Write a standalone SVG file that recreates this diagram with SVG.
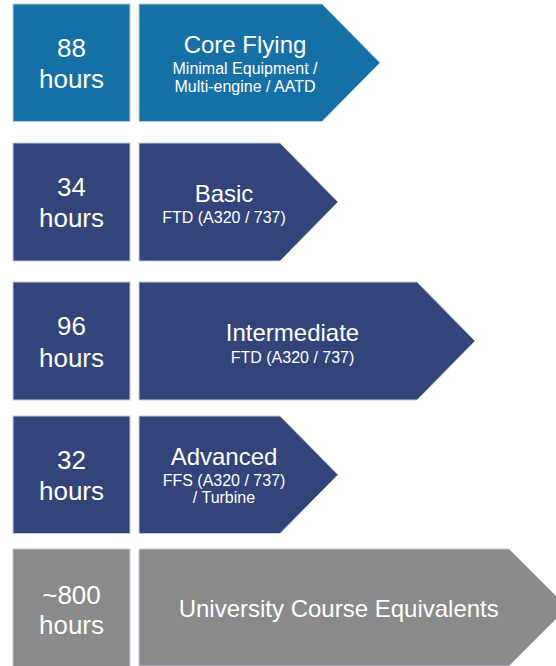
<svg xmlns="http://www.w3.org/2000/svg" width="556" height="666" viewBox="0 0 556 666">
<style>
.b{stroke:#c3c9da;stroke-width:1}
.c1{fill:#1570a6}
.c2{fill:#32447a}
.c3{fill:#8a8a8a}
text{font-family:"Liberation Sans",Arial,sans-serif;fill:#ffffff;text-anchor:middle}
.n{font-size:26px}
.t{font-size:24px}
.s{font-size:16px}
</style>
<rect width="556" height="666" fill="#ffffff"/>
<g id="row1">
<g id="hours88"><rect class="b c1" x="13" y="4" width="117" height="117.5"/><text class="n" x="71.5" y="57">88</text><text class="n" x="71.5" y="88">hours</text></g>
<g id="coreFlying"><polygon class="b c1" points="139,4 322,4 380,62.75 322,121.5 139,121.5"/><text class="t" x="245" y="53">Core Flying</text><text class="s" x="245" y="74">Minimal Equipment /</text><text class="s" x="245" y="92">Multi-engine / AATD</text></g>
</g>
<g id="row2">
<g id="hours34"><rect class="b c2" x="13" y="143" width="117" height="118"/><text class="n" x="71.5" y="196">34</text><text class="n" x="71.5" y="227">hours</text></g>
<g id="basic"><polygon class="b c2" points="139,143 280,143 338,202 280,261 139,261"/><text class="t" x="224" y="202">Basic</text><text class="s" x="224" y="223">FTD (A320 / 737)</text></g>
</g>
<g id="row3">
<g id="hours96"><rect class="b c2" x="13" y="282" width="117" height="118"/><text class="n" x="71.5" y="335">96</text><text class="n" x="71.5" y="366.5">hours</text></g>
<g id="intermediate"><polygon class="b c2" points="139,282 417,282 475,341 417,400 139,400"/><text class="t" x="292.5" y="341">Intermediate</text><text class="s" x="292.5" y="363">FTD (A320 / 737)</text></g>
</g>
<g id="row4">
<g id="hours32"><rect class="b c2" x="13" y="416" width="117" height="117.5"/><text class="n" x="71.5" y="468.5">32</text><text class="n" x="71.5" y="500">hours</text></g>
<g id="advanced"><polygon class="b c2" points="139,416 280,416 338,474.75 280,533.5 139,533.5"/><text class="t" x="224" y="464.5">Advanced</text><text class="s" x="224" y="485.5">FFS (A320 / 737)</text><text class="s" x="224" y="503">/ Turbine</text></g>
</g>
<g id="row5">
<g id="hours800"><rect class="b c3" x="13" y="549" width="117" height="118"/><text class="n" x="71.5" y="603.5">~800</text><text class="n" x="71.5" y="633.5">hours</text></g>
<g id="university"><polygon class="b c3" points="139,549 509,549 567.5,607.5 509,666 139,666"/><text class="t" x="338.7" y="617">University Course Equivalents</text></g>
</g>
<g id="connectors"></g>
</svg>
